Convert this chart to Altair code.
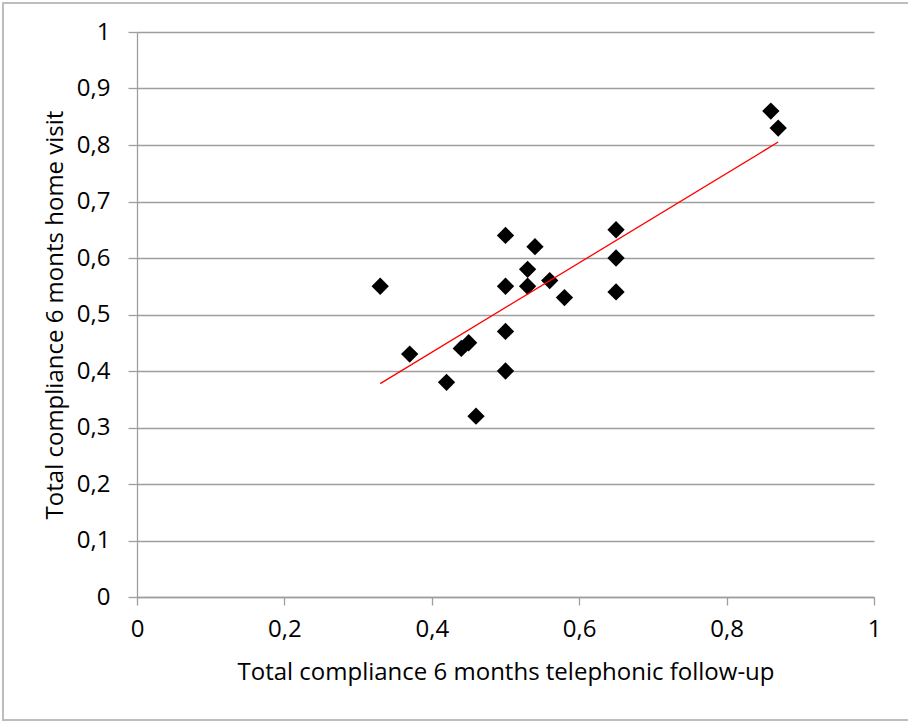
import altair as alt
import pandas as pd

telephonic = [0.33, 0.37, 0.42, 0.44, 0.45, 0.46, 0.50, 0.50, 0.50, 0.50,
              0.53, 0.53, 0.54, 0.56, 0.58, 0.65, 0.65, 0.65, 0.86, 0.87]
home_visit = [0.55, 0.43, 0.38, 0.44, 0.45, 0.32, 0.64, 0.55, 0.47, 0.40,
              0.58, 0.55, 0.62, 0.56, 0.53, 0.65, 0.60, 0.54, 0.86, 0.83]
x_ticks = [0, 0.2, 0.4, 0.6, 0.8, 1]
y_ticks = [0, 0.1, 0.2, 0.3, 0.4, 0.5, 0.6, 0.7, 0.8, 0.9, 1]

df = pd.DataFrame({"x": telephonic, "y": home_visit})

FONT = "Open Sans"
label_expr = "replace(format(datum.value, '~g'), '.', ',')"

x_enc = alt.X("x:Q", scale=alt.Scale(domain=[0, 1], nice=False),
              axis=alt.Axis(values=x_ticks, labelExpr=label_expr, grid=False,
                            title="Total compliance 6 months telephonic follow-up",
                            tickSize=8, labelPadding=12, labelFontSize=24,
                            labelFlush=False,
                            titleFontSize=24, titleX=368.5, titleY=82,
                            titleBaseline="alphabetic", titleAlign="center"))
y_enc = alt.Y("y:Q", scale=alt.Scale(domain=[0, 1], nice=False),
              axis=alt.Axis(values=y_ticks, labelExpr=label_expr, grid=True,
                            title="Total compliance 6 monts home visit",
                            tickSize=9, labelPadding=18, labelFontSize=24,
                            labelFlush=False,
                            titleFontSize=24, titleX=-75, titleY=282.5,
                            titleBaseline="alphabetic", titleAlign="center",
                            titleAngle=270))

border = alt.Chart(df).mark_rect(fill=None, stroke="#bdbdbd", strokeWidth=1.5).encode(
    x=alt.value(-134), x2=alt.value(800), y=alt.value(-29), y2=alt.value(688)
)

points = alt.Chart(df).mark_point(shape="diamond", filled=True, color="black",
                                  size=300, opacity=1).encode(x=x_enc, y=y_enc)

trend = alt.Chart(df).transform_regression("x", "y").mark_line(
    color="#ff0000", strokeWidth=1.3).encode(x="x:Q", y="y:Q")

chart = alt.layer(border, points, trend).properties(
    width=737, height=565,
    autosize=alt.AutoSizeParams(type="none"),
    padding={"left": 137, "top": 32, "right": 34, "bottom": 125},
    background="white",
).configure_view(stroke=None).configure_axis(
    labelFont=FONT, titleFont=FONT, labelColor="#000000", titleColor="#000000",
    titleFontWeight="normal", domainColor="#9e9e9e", tickColor="#9e9e9e",
    gridColor="#9e9e9e", domainWidth=1.3, tickWidth=1.3, gridWidth=1.3,
)

chart.save("out.html", embed_options={"renderer": "svg", "actions": False})
